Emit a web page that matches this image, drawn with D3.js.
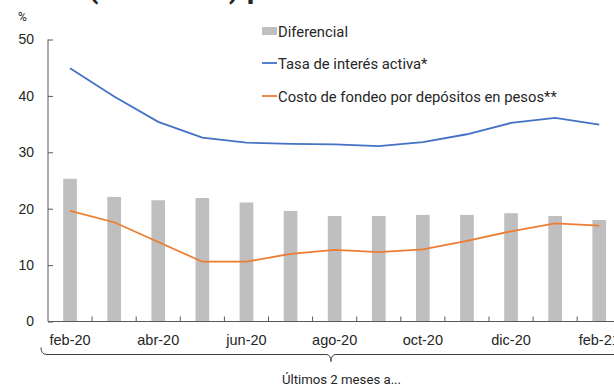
<!DOCTYPE html>
<html><head><meta charset="utf-8">
<script src="https://cdn.jsdelivr.net/npm/d3@7"></script>
<style>
html,body{margin:0;padding:0;background:#fff;overflow:hidden}
svg{display:block;font-family:Roboto,"Noto Sans",sans-serif}
</style></head><body>
<svg id="c" width="614" height="385"></svg>
<script>
const categories = ["feb-20","mar-20","abr-20","may-20","jun-20","jul-20","ago-20","sep-20","oct-20","nov-20","dic-20","ene-21","feb-21"];
const diferencial = [25.3,22.1,21.5,21.9,21.1,19.6,18.7,18.7,18.9,18.9,19.2,18.7,18.0];
const tasaActiva = [44.9,39.9,35.4,32.6,31.7,31.5,31.4,31.1,31.8,33.2,35.2,36.1,34.9];
const costoFondeo = [19.6,17.6,14.1,10.6,10.6,12.0,12.7,12.3,12.8,14.3,16.0,17.4,17.0];
const yTicks = [0,10,20,30,40,50];
const legendLabels = ["Diferencial","Tasa de interés activa*","Costo de fondeo por depósitos en pesos**"];
const titleText = "Tasas (TNA en %) promedio";
const unitLabel = "%";
const bracketLabel = "Últimos 2 meses a...";

const svg = d3.select("#c");
const x = d3.scaleBand().domain(categories).range([48, 621.3]).paddingInner(0.69).paddingOuter(0.345);
const y = d3.scaleLinear().domain([0, 50]).range([321.5, 39.5]);
const cx = c => x(c) + x.bandwidth() / 2;
const textColor = "#262626";

// clipped title
const t = svg.append("text").attr("y", -2.5).attr("font-size", 30).attr("font-weight", 700)
  .attr("fill", textColor).text(titleText);
const off = t.node().getSubStringLength(0, titleText.indexOf("("));
t.attr("x", 88 - off);

// unit
svg.append("text").attr("x", 18).attr("y", 21).attr("font-size", 12).attr("fill", textColor).text(unitLabel);

// bars
svg.append("g").selectAll("rect").data(diferencial).join("rect")
  .attr("x", (d, i) => x(categories[i])).attr("width", x.bandwidth())
  .attr("y", d => y(d)).attr("height", d => y(0) - y(d)).attr("fill", "#bfbfbf");

// y axis
const ya = svg.append("g").attr("transform", "translate(48,0)")
  .call(d3.axisRight(y).tickValues(yTicks).tickSize(5).tickFormat(d3.format("d")));
ya.select(".domain").attr("stroke", "#595959").attr("d", `M0,${y(50)}V${y(0)}`);
ya.selectAll(".tick line").attr("stroke", "#595959");
ya.selectAll(".tick text").attr("x", -14).attr("text-anchor", "end").attr("font-size", 14)
  .attr("fill", textColor).attr("font-family", null);

// x axis
const xa = svg.append("g").attr("transform", `translate(0,${y(0)})`)
  .call(d3.axisBottom(x).tickSize(0).tickFormat((d, i) => i % 2 === 0 ? d : ""));
xa.select(".domain").attr("stroke", "#595959").attr("d", "M48,0H621");
xa.selectAll(".tick text").attr("dy", null).attr("y", 23.5).attr("font-size", 14.5)
  .attr("fill", textColor).attr("font-family", null);
const bounds = categories.slice(1).map(c => x(c) - x.step() * x.paddingInner() / 2);
xa.selectAll(".btick").data(bounds).join("line").attr("class", "btick")
  .attr("x1", d => d).attr("x2", d => d).attr("y1", 0).attr("y2", -5).attr("stroke", "#595959");

// lines
const line = d3.line().x((d, i) => cx(categories[i])).y(d => y(d));
svg.append("path").datum(tasaActiva).attr("d", line).attr("fill", "none")
  .attr("stroke", "#4472c4").attr("stroke-width", 1.8);
svg.append("path").datum(costoFondeo).attr("d", line).attr("fill", "none")
  .attr("stroke", "#ed7d31").attr("stroke-width", 1.8);

// legend
const lg = svg.append("g");
const rows = [31, 63, 96];
lg.append("rect").attr("x", 262).attr("y", rows[0] - 4).attr("width", 15).attr("height", 8).attr("fill", "#bfbfbf");
lg.append("line").attr("x1", 262).attr("x2", 277).attr("y1", rows[1]).attr("y2", rows[1]).attr("stroke", "#4472c4").attr("stroke-width", 1.8);
lg.append("line").attr("x1", 262).attr("x2", 277).attr("y1", rows[2]).attr("y2", rows[2]).attr("stroke", "#ed7d31").attr("stroke-width", 1.8);
lg.selectAll("text.l").data(legendLabels).join("text").attr("class", "l")
  .attr("x", 278).attr("y", (d, i) => rows[i] + 5.5).attr("font-size", 14.8).attr("fill", textColor).text(d => d);

// bracket
const bx0 = 41, bx1 = 621, by = 354.5, bm = (bx0 + bx1) / 2;
svg.append("path").attr("fill", "none").attr("stroke", "#404040").attr("stroke-width", 1)
  .attr("d", `M${bx0},${by - 7}Q${bx0},${by} ${bx0 + 6},${by}H${bm - 5}Q${bm},${by} ${bm},${by + 7}Q${bm},${by} ${bm + 5},${by}H${bx1 - 6}Q${bx1},${by} ${bx1},${by - 7}`);
svg.append("text").attr("x", 341.5).attr("y", 384).attr("text-anchor", "middle")
  .attr("font-size", 13.2).attr("fill", textColor).text(bracketLabel);
</script>
</body></html>
